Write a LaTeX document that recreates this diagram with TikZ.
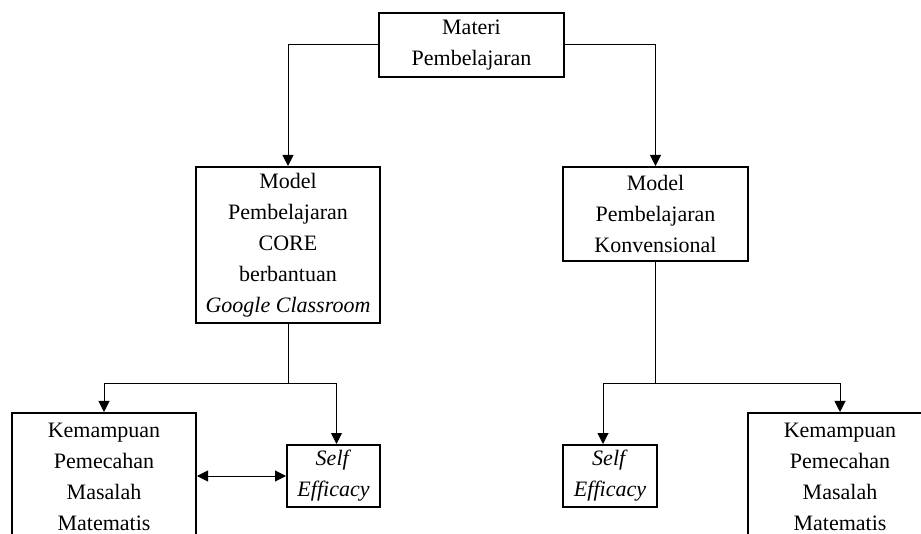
\documentclass[tikz,border=0pt]{standalone}
\usepackage{fontspec}
\setmainfont{Liberation Serif}
\usetikzlibrary{arrows.meta}
\begin{document}
\begin{tikzpicture}[x=1pt,y=-1pt,
  box/.style={draw,line width=2pt,align=center,inner sep=0pt,
    font=\fontsize{22}{31}\selectfont},
  line/.style={line width=1pt},
  arr/.style={line width=1pt,-{Triangle[length=11pt,width=11pt]}},
  arrboth/.style={line width=1pt,{Triangle[length=11pt,width=11pt]}-{Triangle[length=11pt,width=11pt]}}]
\useasboundingbox (0,0) rectangle (921,534);
\clip (0,0) rectangle (921,534);
%\draw[gray,very thin,step=50] (0,0) grid (921,534);
\node[box,minimum width=185,minimum height=64] (mat) at (471.5,45) {Materi\\Pembelajaran};
\node[box,minimum width=184,minimum height=156] (modA) at (288,245) {Model\\Pembelajaran\\CORE\\berbantuan\\\textit{Google Classroom}};
\node[box,minimum width=185,minimum height=94] (modB) at (655.5,214) {Model\\Pembelajaran\\Konvensional};
\node[box,minimum width=184,minimum height=128] (kemA) at (104,477) {Kemampuan\\Pemecahan\\Masalah\\Matematis};
\node[box,minimum width=93,minimum height=62] (seA) at (333.5,476) {\textit{Self}\\\textit{Efficacy}};
\node[box,minimum width=94,minimum height=62] (seB) at (610,476) {\textit{Self}\\\textit{Efficacy}};
\node[box,minimum width=184,minimum height=128] (kemB) at (840,477) {Kemampuan\\Pemecahan\\Masalah\\Matematis};
\coordinate (jA) at (288,384);
\coordinate (jB) at (655.5,384);
\draw[arr] (mat.west) -| (modA.north);
\draw[arr] (mat.east) -| (modB.north);
\draw[line] (modA.south) -- (jA);
\draw[arr] (jA) -| (kemA.north);
\draw[arr] (jA) -| ([xshift=3pt]seA.north);
\draw[line] (modB.south) -- (jB);
\draw[arr] (jB) -| ([xshift=-7pt]seB.north);
\draw[arr] (jB) -| (kemB.north);
\draw[arrboth] (seA.west) -- (seA.west -| kemA.east);
\end{tikzpicture}
\end{document}
